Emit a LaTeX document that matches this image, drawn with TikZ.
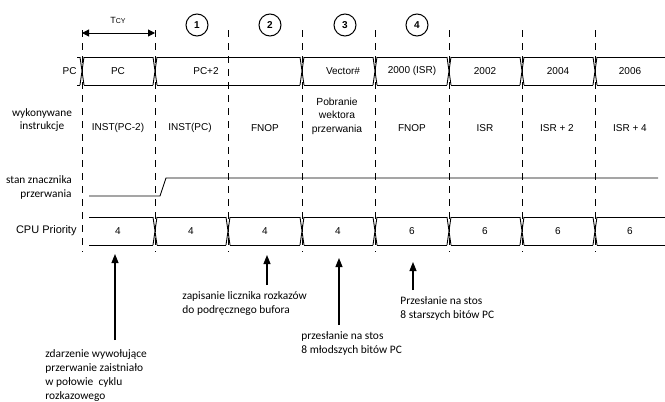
\documentclass[tikz,border=0pt]{standalone}
\usepackage{fontspec}
\setmainfont{Liberation Sans}
\newfontfamily\notefont{Carlito}
\usepackage{tikz}
\usetikzlibrary{arrows.meta}

\begin{document}
\begin{tikzpicture}[x=1pt, y=-1pt, line width=0.9pt,
  cell/.style={font=\fontsize{10}{12.5}\selectfont, inner sep=0pt, align=center},
  opis/.style={font=\notefont\fontsize{11.4}{14.2}\selectfont, align=left, inner sep=0pt},
  etyk/.style={font=\notefont\fontsize{11.3}{14}\selectfont, inner sep=0pt},
  krok/.style={draw, circle, line width=1pt, minimum size=22pt, inner sep=0pt, font=\bfseries\fontsize{10}{12}\selectfont},
  siatka/.style={dash pattern=on 7pt off 6pt},
  >={Triangle[length=9pt, width=7pt]}]
\useasboundingbox (0,0) rectangle (665,402);

\foreach \x in {82,155,228,302,375,449,522,595}
  \draw[siatka] (\x,30) -- (\x,252);

\foreach \a/\b in {75/82,82/155,155/302,302/375,375/449,449/522,522/595,595/667}
  \draw (\a+2,57) -- (\b-2,57) (\a+2,85) -- (\b-2,85);
\foreach \x in {82,155,302,375,449,522,595}
  \draw (\x-2,57) -- (\x+2,85) (\x-2,85) -- (\x+2,57);

\foreach \a/\b in {87/155,155/228,228/302,302/375,375/449,449/522,522/595,595/667}
  \draw (\a+2,217) -- (\b-2,217) (\a+2,245) -- (\b-2,245);
\foreach \x in {155,228,302,375,449,522,595}
  \draw (\x-2,217) -- (\x+2,245) (\x-2,245) -- (\x+2,217);

\draw (89,196) -- (160,196) -- (166,178) -- (658,178);

\coordinate (t0) at (82,33);
\coordinate (t1) at (155,33);
\draw[{Triangle[length=7pt, width=7pt]}-{Triangle[length=7pt, width=7pt]}, line width=1pt] (t0) -- (t1);
\node[inner sep=0pt, font=\fontsize{9}{10}\selectfont] (tcy) at (118,20) {T\fontsize{7}{8}\selectfont CY};

\node[krok] (k1) at (197,25) {1};
\node[krok] (k2) at (270,25) {2};
\node[krok] (k3) at (345,25) {3};
\node[krok] (k4) at (417,25) {4};

\node[cell, anchor=east] (lpc) at (77,71) {PC};
\node[cell] (pc1) at (118,71) {PC};
\node[cell] (pc2) at (206,71) {PC+2};
\node[cell] (pc3) at (343,71) {Vector\#};
\node[cell] (pc4) at (412,71) {2000 (ISR)};
\node[cell] (pc5) at (485,71) {2002};
\node[cell] (pc6) at (558,71) {2004};
\node[cell] (pc7) at (630,71) {2006};

\node[etyk] (lin1) at (42,113) {wykonywane};
\node[etyk] (lin2) at (42,127) {instrukcje};
\node[cell] (in1) at (118,128) {INST(PC-2)};
\node[cell] (in2) at (190,128) {INST(PC)};
\node[cell] (in3) at (265,128) {FNOP};
\node[cell, font=\fontsize{10.3}{13.5}\selectfont] (in4) at (337,116) {Pobranie\\wektora\\przerwania};
\node[cell] (in5) at (412,128) {FNOP};
\node[cell] (in6) at (485,128) {ISR};
\node[cell] (in7) at (557,128) {ISR + 2};
\node[cell] (in8) at (630,128) {ISR + 4};

\node[etyk] (lfl1) at (39,180) {stan znacznika};
\node[etyk] (lfl2) at (46,195) {przerwania};

\node[cell, anchor=east, font=\fontsize{11}{13}\selectfont] (lpr) at (77,231) {CPU Priority};
\node[cell] (pr1) at (118,231) {4};
\node[cell] (pr2) at (191,231) {4};
\node[cell] (pr3) at (265,231) {4};
\node[cell] (pr4) at (338,231) {4};
\node[cell] (pr5) at (412,231) {6};
\node[cell] (pr6) at (485,231) {6};
\node[cell] (pr7) at (558,231) {6};
\node[cell] (pr8) at (630,231) {6};

\node[opis, anchor=north west] (n1) at (45,349) {zdarzenie wywołujące\\przerwanie zaistniało\\w połowie\ \ cyklu\\rozkazowego};
\node[opis, anchor=north west] (n2) at (182,291) {zapisanie licznika rozkazów\\do podręcznego bufora};
\node[opis, anchor=north west] (n3) at (301,331) {przesłanie na stos\\8 młodszych bitów PC};
\node[opis, anchor=north west] (n4) at (400,296) {Przesłanie na stos\\8 starszych bitów PC};

\coordinate (s1) at (115,340); \coordinate (e1) at (115,254);
\coordinate (s2) at (267,285); \coordinate (e2) at (267,255);
\coordinate (s3) at (339,325); \coordinate (e3) at (339,258);
\coordinate (s4) at (413,290); \coordinate (e4) at (413,262);
\draw[->, line width=1.1pt] (s1) -- (e1); \draw[->, line width=1.1pt] (s2) -- (e2);
\draw[->, line width=1.1pt] (s3) -- (e3); \draw[->, line width=1.1pt] (s4) -- (e4);
\end{tikzpicture}
\end{document}
